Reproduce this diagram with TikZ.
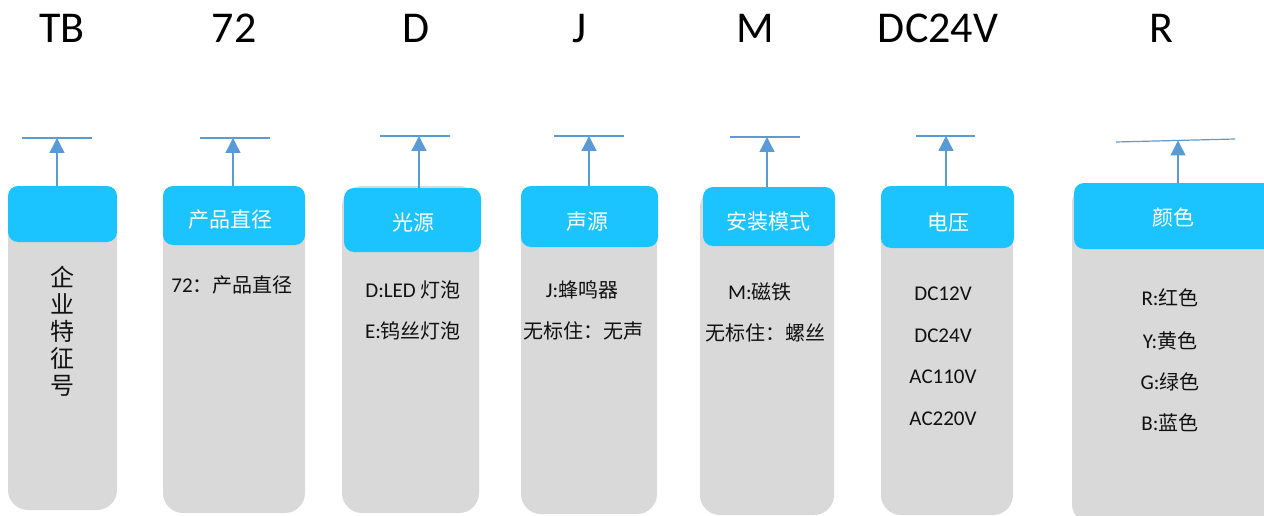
\documentclass[tikz,border=0pt]{standalone}
\usepackage{fontspec}
\setmainfont{Carlito}
\newfontfamily\cjk{Noto Sans CJK SC}
\usetikzlibrary{arrows.meta}
\definecolor{hdrblue}{HTML}{1CC4FF}
\definecolor{bodygrey}{HTML}{D9D9D9}
\definecolor{arrblue}{HTML}{5B9BD5}
\definecolor{txtblack}{HTML}{111111}
\tikzset{
  greybox/.style={fill=bodygrey, rounded corners=20pt, inner sep=0pt},
  bluebox/.style={fill=hdrblue, rounded corners=10pt, inner sep=0pt},
  hdrtext/.style={text=white, font=\cjk\fontsize{21}{24}\selectfont, inner sep=0pt},
  toptext/.style={text=black, font=\fontsize{44}{48}\selectfont, anchor=base, inner sep=0pt},
  bodytext/.style={text=txtblack, font=\fontsize{21}{24}\selectfont, inner sep=0pt},
  arrowline/.style={draw=arrblue, line width=1.4pt, -{Triangle[width=15pt,length=15pt]}},
  barline/.style={draw=arrblue, line width=1.2pt},
}
\newcommand{\boxat}[6]{% name, x1, y1, x2, y2, style
  \node[#6, minimum width=#4-#2, minimum height=#5-#3] (#1) at ({(#2+#4)/2},{(#3+#5)/2}) {};}
\begin{document}
\begin{tikzpicture}[x=1pt,y=-1pt]
\useasboundingbox (0,0) rectangle (1264,516);
\clip (0,0) rectangle (1264,516);
% top labels
\node[toptext] (t1) at (62,43) {TB};
\node[toptext] (t2) at (234,43) {72};
\node[toptext] (t3) at (416,43) {D};
\node[toptext] (t4) at (580,43) {J};
\node[toptext] (t5) at (755,43) {M};
\node[toptext] (t6) at (938,43) {DC24V};
\node[toptext] (t7) at (1161,43) {R};
% grey bodies
\boxat{g1}{8}{186}{117}{510}{greybox}
\boxat{g2}{163}{186}{305}{513}{greybox}
\boxat{g3}{342}{186}{479}{513}{greybox}
\boxat{g4}{521}{186}{657}{514}{greybox}
\boxat{g5}{700}{187}{834}{515}{greybox}
\boxat{g6}{881}{186}{1013}{515}{greybox}
\boxat{g7}{1072}{183}{1300}{524}{greybox}
% blue headers
\boxat{h1}{8}{186}{117}{242}{bluebox}
\boxat{h2}{163}{186}{305}{245}{bluebox}
\boxat{h3}{344}{188}{481}{252}{bluebox}
\boxat{h4}{521}{186}{658}{247}{bluebox}
\boxat{h5}{703}{187}{835}{246}{bluebox}
\boxat{h6}{881}{186}{1014}{248}{bluebox}
\boxat{h7}{1074}{183}{1300}{249}{bluebox}
% header texts
\node[hdrtext] (ht2) at (230,220) {产品直径};
\node[hdrtext] (ht3) at (413,223) {光源};
\node[hdrtext] (ht4) at (587,222) {声源};
\node[hdrtext] (ht5) at (768,222) {安装模式};
\node[hdrtext] (ht6) at (948,223) {电压};
\node[hdrtext] (ht7) at (1173,218) {颜色};
% bars
\coordinate (b1l) at (22,138); \coordinate (b1r) at (92,138); \coordinate (a1) at (57,138);
\coordinate (b2l) at (200,138); \coordinate (b2r) at (270,138); \coordinate (a2) at (233,138);
\coordinate (b3l) at (380,136); \coordinate (b3r) at (450,136); \coordinate (a3) at (419,136);
\coordinate (b4l) at (554,136); \coordinate (b4r) at (624,136); \coordinate (a4) at (589,136);
\coordinate (b5l) at (730,137); \coordinate (b5r) at (800,137); \coordinate (a5) at (767,137);
\coordinate (b6l) at (916,136); \coordinate (b6r) at (975,136); \coordinate (a6) at (946,136);
\coordinate (b7l) at (1116,142); \coordinate (b7r) at (1235,139); \coordinate (a7) at (1178,140.5);
\foreach \i in {1,...,7}{
  \draw[barline] (b\i l) -- (b\i r);
  \draw[arrowline] (a\i |- h\i.north) -- (a\i);
}
% body texts
\node[bodytext, font=\cjk\fontsize{24}{27}\selectfont, align=center] (c1) at (62,331) {企\\业\\特\\征\\号};
\node[bodytext] (c2) at (232,285) {72{\cjk\fontsize{20}{24}\selectfont ：产品直径}};
\node[bodytext] (c3a) at (413,290) {D:LED {\cjk\fontsize{20}{24}\selectfont 灯泡}};
\node[bodytext] (c3b) at (413,331) {E:{\cjk\fontsize{20}{24}\selectfont 钨丝灯泡}};
\node[bodytext] (c4a) at (582,290) {J:{\cjk\fontsize{20}{24}\selectfont 蜂鸣器}};
\node[bodytext] (c4b) at (583,331) {\cjk\fontsize{20}{24}\selectfont 无标住：无声};
\node[bodytext] (c5a) at (760,292) {M:{\cjk\fontsize{20}{24}\selectfont 磁铁}};
\node[bodytext] (c5b) at (765,333) {\cjk\fontsize{20}{24}\selectfont 无标住：螺丝};
\node[bodytext] (c6a) at (943,294) {DC12V};
\node[bodytext] (c6b) at (943,336) {DC24V};
\node[bodytext] (c6c) at (943,377) {AC110V};
\node[bodytext] (c6d) at (943,419) {AC220V};
\node[bodytext] (c7a) at (1170,298) {R:{\cjk\fontsize{20}{24}\selectfont 红色}};
\node[bodytext] (c7b) at (1170,341) {Y:{\cjk\fontsize{20}{24}\selectfont 黄色}};
\node[bodytext] (c7c) at (1170,382) {G:{\cjk\fontsize{20}{24}\selectfont 绿色}};
\node[bodytext] (c7d) at (1170,423) {B:{\cjk\fontsize{20}{24}\selectfont 蓝色}};
\end{tikzpicture}
\end{document}
